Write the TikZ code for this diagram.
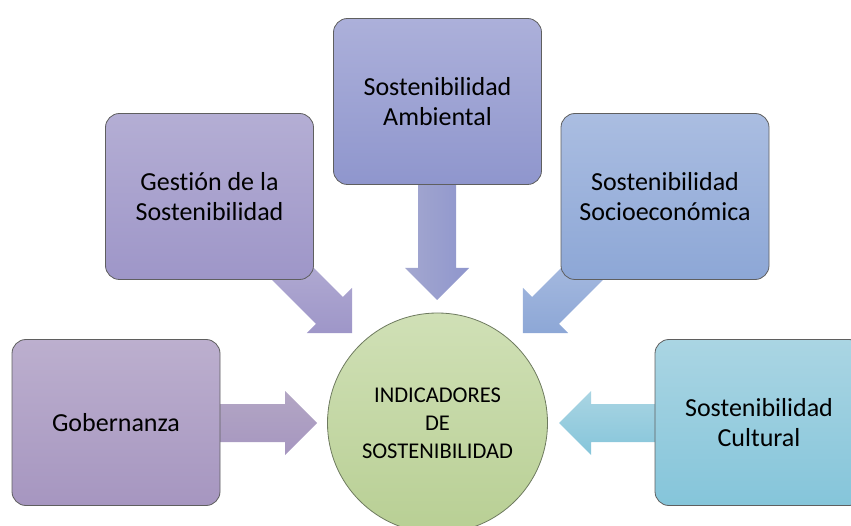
\documentclass[tikz,border=0pt]{standalone}
\usepackage{fontspec}
\setmainfont{Carlito}[Ligatures=NoCommon]
\definecolor{gobT}{RGB}{188,175,206}\definecolor{gobB}{RGB}{166,150,192}
\definecolor{gesT}{RGB}{180,174,212}\definecolor{gesB}{RGB}{158,150,200}
\definecolor{ambT}{RGB}{172,176,218}\definecolor{ambB}{RGB}{143,150,205}
\definecolor{socT}{RGB}{170,189,225}\definecolor{socB}{RGB}{141,167,214}
\definecolor{culT}{RGB}{170,213,227}\definecolor{culB}{RGB}{133,197,218}
\definecolor{cirT}{RGB}{208,224,182}\definecolor{cirB}{RGB}{184,207,148}
\definecolor{boxline}{RGB}{95,95,95}
\definecolor{cirline}{RGB}{110,122,95}
\tikzset{
  box/.style={draw=boxline, line width=0.8pt, rounded corners=14pt,
    minimum width=208pt, minimum height=166pt, inner sep=2pt, align=center,
    font=\fontsize{26}{30}\selectfont},
  hub/.style={circle, draw=cirline, line width=0.8pt, minimum size=220pt,
    inner sep=0pt, align=center, top color=cirT, bottom color=cirB,
    font=\fontsize{22.5}{28}\selectfont},
  fatarrow/.style={draw=none}
}
% tail point, angle, length, fill options
\newcommand\blockarrow[4]{%
  \path[fatarrow,#4, shift={#1}, rotate=#2]
    (0,-19) -- ({#3-32},-19) -- ({#3-32},-32) -- (#3,0) -- ({#3-32},32)
    -- ({#3-32},19) -- (0,19) -- cycle;}
\begin{document}
\begin{tikzpicture}[x=1pt,y=-1pt]
\useasboundingbox (0,0) rectangle (851,526);
% arrows (drawn beneath boxes)
\blockarrow{(210,423)}{0}{107}{top color=gobT!95!black, bottom color=gobB}
\blockarrow{(437,178)}{-90}{122}{left color=ambT!95!black, right color=ambB}
\blockarrow{(667,423)}{180}{108}{top color=culT, bottom color=culB}
\blockarrow{(280,261)}{-45}{102}{top color=gesT, bottom color=gesB}
\blockarrow{(595,261)}{-135}{102}{top color=socT, bottom color=socB}
% boxes
\node[box, top color=gobT, bottom color=gobB] (gob) at (116,422.5) {Gobernanza};
\node[box, top color=gesT, bottom color=gesB] (ges) at (209.5,196.5) {Gestión de la\\Sostenibilidad};
\node[box, top color=ambT, bottom color=ambB] (amb) at (437.5,101.5) {Sostenibilidad\\Ambiental};
\node[box, top color=socT, bottom color=socB] (soc) at (665,196.5) {Sostenibilidad\\Socioeconómica};
\node[box, top color=culT, bottom color=culB] (cul) at (759,422.5) {Sostenibilidad\\Cultural};
% hub
\node[hub] (hub) at (437.5,423) {INDICADORES\\DE\\SOSTENIBILIDAD};
\end{tikzpicture}
\end{document}
